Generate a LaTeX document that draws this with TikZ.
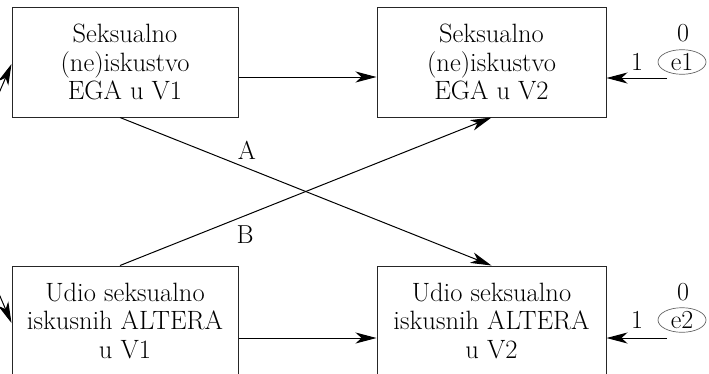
\documentclass[tikz,border=0pt]{standalone}
\usepackage{fontspec}
\usetikzlibrary{arrows.meta,shapes.geometric}
\begin{document}
\begin{tikzpicture}[x=1pt,y=-1pt,
  txt/.style={font=\fontsize{26.5}{28.5}\selectfont},
  lbl/.style={font=\fontsize{26}{28}\selectfont},
  varbox/.style={txt,draw=black!85,line width=1pt,align=center,minimum height=110pt,inner sep=0pt},
  errell/.style={lbl,ellipse,draw=black!60,line width=0.7pt,minimum width=48pt,minimum height=24pt,inner sep=0pt},
  arr/.style={line width=1pt,-{Stealth[length=21pt,width=11pt,inset=6pt]}},
  covarr/.style={line width=1pt,{Stealth[length=21pt,width=11pt,inset=6pt]}-{Stealth[length=21pt,width=11pt,inset=6pt]}}]
\useasboundingbox (0,0) rectangle (709,373);
\clip (0,0) rectangle (709,373);
\node[varbox,minimum width=226pt] (ega1) at (125,62) {Seksualno\\(ne)iskustvo\\EGA u V1};
\node[varbox,minimum width=229pt] (ega2) at (491.5,62) {Seksualno\\(ne)iskustvo\\EGA u V2};
\node[varbox,minimum width=226pt] (alt1) at (125,321) {Udio seksualno\\iskusnih ALTERA\\u V1};
\node[varbox,minimum width=229pt] (alt2) at (491.5,321) {Udio seksualno\\iskusnih ALTERA\\u V2};
\node[errell] (e1) at (682,62) {e1};
\node[errell] (e2) at (682,320) {e2};
\node[lbl] (z1) at (683,33) {0};
\node[lbl] (o1) at (637,62) {1};
\node[lbl] (z2) at (683,292) {0};
\node[lbl] (o2) at (637,320) {1};
\coordinate (c1) at (667,78);
\coordinate (c2) at (667,338);
\draw[arr] ([yshift=-15pt]ega1.east) -- ([yshift=-15pt]ega2.west);
\draw[arr] ([yshift=-17pt]alt1.east) -- ([yshift=-17pt]alt2.west);
\draw[arr] (c1) -- (c1 -| ega2.east);
\draw[arr] (c2) -- (c2 -| alt2.east);
\draw[arr] ([xshift=-5pt]ega1.south) -- (alt2.north);
\draw[arr] ([xshift=-5pt]alt1.north) -- (ega2.south);
\node[lbl] (la) at (247,150) {A};
\node[lbl] (lb) at (245,235) {B};
\draw[covarr] ([yshift=-2pt]ega1.west) .. controls +(-60,140) and +(-60,-140) .. ([yshift=-2pt]alt1.west);
\end{tikzpicture}
\end{document}
